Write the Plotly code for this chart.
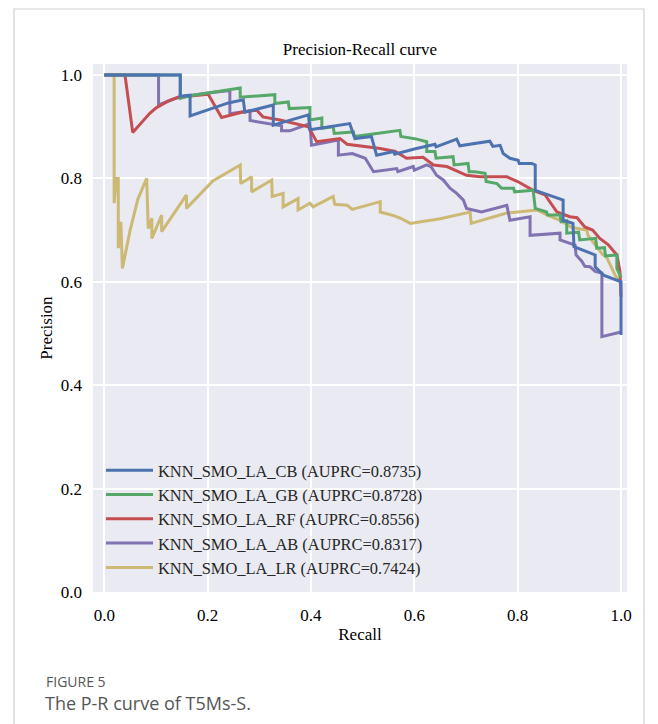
import plotly.graph_objects as go

# ---------------- data ----------------
names = [
    "KNN_SMO_LA_CB (AUPRC=0.8735)",
    "KNN_SMO_LA_GB (AUPRC=0.8728)",
    "KNN_SMO_LA_RF (AUPRC=0.8556)",
    "KNN_SMO_LA_AB (AUPRC=0.8317)",
    "KNN_SMO_LA_LR (AUPRC=0.7424)",
]
colors = ["#4C72B0", "#55A868", "#C44E52", "#8172B2", "#CCB974"]

recall_cb = [0.0, 0.147, 0.147, 0.166, 0.166, 0.240, 0.269, 0.272, 0.327, 0.327, 0.340, 0.395, 0.398,
             0.475, 0.485, 0.517, 0.527, 0.560, 0.562, 0.600, 0.640, 0.642, 0.682, 0.688, 0.746, 0.752,
             0.766, 0.772, 0.785, 0.801, 0.803, 0.827, 0.834, 0.834, 0.888, 0.888, 0.907, 0.909, 0.950,
             0.950, 0.966, 0.998, 1.0, 1.0]
precision_cb = [1.0, 1.0, 0.959, 0.961, 0.921, 0.946, 0.952, 0.928, 0.942, 0.903, 0.907, 0.923, 0.894,
                0.906, 0.877, 0.881, 0.845, 0.852, 0.847, 0.857, 0.866, 0.861, 0.876, 0.863, 0.872, 0.862,
                0.864, 0.848, 0.839, 0.835, 0.829, 0.829, 0.826, 0.777, 0.758, 0.719, 0.713, 0.668, 0.652,
                0.629, 0.613, 0.600, 0.600, 0.497]

recall_gb = [0.0, 0.147, 0.147, 0.166, 0.263, 0.263, 0.330, 0.330, 0.356, 0.358, 0.398, 0.398, 0.421,
             0.421, 0.443, 0.445, 0.482, 0.484, 0.572, 0.574, 0.605, 0.624, 0.624, 0.640, 0.642, 0.675,
             0.677, 0.704, 0.706, 0.717, 0.737, 0.739, 0.760, 0.769, 0.792, 0.794, 0.830, 0.834, 0.856,
             0.858, 0.882, 0.884, 0.895, 0.895, 0.918, 0.920, 0.951, 0.953, 0.968, 0.970, 0.992, 0.992, 1.0]
precision_gb = [1.0, 1.0, 0.955, 0.960, 0.975, 0.957, 0.962, 0.945, 0.948, 0.935, 0.937, 0.913, 0.917,
                0.897, 0.900, 0.887, 0.890, 0.881, 0.893, 0.881, 0.876, 0.871, 0.852, 0.852, 0.839, 0.842,
                0.826, 0.829, 0.813, 0.813, 0.810, 0.794, 0.790, 0.781, 0.781, 0.774, 0.777, 0.742, 0.735,
                0.729, 0.729, 0.716, 0.718, 0.694, 0.696, 0.681, 0.684, 0.665, 0.666, 0.650, 0.652, 0.626, 0.608]

recall_rf = [0.0, 0.040, 0.055, 0.065, 0.075, 0.088, 0.101, 0.124, 0.143, 0.201, 0.227, 0.266, 0.295,
             0.307, 0.340, 0.395, 0.411, 0.456, 0.470, 0.534, 0.563, 0.585, 0.617, 0.637, 0.663, 0.701,
             0.727, 0.779, 0.800, 0.830, 0.853, 0.876, 0.901, 0.915, 0.930, 0.945, 0.959, 0.975, 0.992,
             0.998, 1.0]
precision_rf = [1.0, 1.0, 0.889, 0.900, 0.912, 0.926, 0.937, 0.950, 0.957, 0.963, 0.918, 0.928, 0.932,
                0.919, 0.913, 0.900, 0.871, 0.877, 0.866, 0.858, 0.852, 0.839, 0.841, 0.826, 0.823, 0.806,
                0.803, 0.803, 0.794, 0.777, 0.768, 0.735, 0.726, 0.724, 0.706, 0.700, 0.684, 0.672, 0.652,
                0.620, 0.571]

recall_ab = [0.0, 0.105, 0.105, 0.143, 0.201, 0.243, 0.243, 0.282, 0.282, 0.343, 0.343, 0.359, 0.398,
             0.401, 0.453, 0.453, 0.480, 0.505, 0.521, 0.566, 0.568, 0.598, 0.600, 0.624, 0.632, 0.643,
             0.656, 0.669, 0.682, 0.695, 0.701, 0.730, 0.779, 0.785, 0.824, 0.824, 0.882, 0.882, 0.911,
             0.913, 0.924, 0.930, 0.940, 0.950, 0.963, 0.963, 1.0]
precision_ab = [1.0, 1.0, 0.942, 0.957, 0.965, 0.970, 0.925, 0.931, 0.912, 0.902, 0.892, 0.892, 0.906,
                0.864, 0.874, 0.845, 0.848, 0.839, 0.813, 0.819, 0.813, 0.823, 0.816, 0.826, 0.823, 0.806,
                0.797, 0.781, 0.771, 0.758, 0.742, 0.735, 0.748, 0.719, 0.726, 0.690, 0.694, 0.681, 0.671,
                0.652, 0.640, 0.630, 0.629, 0.620, 0.617, 0.494, 0.503]

recall_lr = [0.019, 0.019, 0.023, 0.027, 0.027, 0.032, 0.035, 0.050, 0.065, 0.082, 0.085, 0.092, 0.092,
             0.111, 0.111, 0.159, 0.159, 0.210, 0.263, 0.264, 0.285, 0.285, 0.324, 0.325, 0.346, 0.346,
             0.375, 0.375, 0.398, 0.404, 0.443, 0.446, 0.470, 0.480, 0.534, 0.534, 0.560, 0.575, 0.592,
             0.650, 0.708, 0.710, 0.779, 0.837, 0.860, 0.882, 0.905, 0.934, 0.936, 0.965, 0.972, 0.979,
             0.990, 1.0]
precision_lr = [1.0, 0.752, 0.800, 0.800, 0.665, 0.716, 0.626, 0.700, 0.760, 0.800, 0.703, 0.723, 0.684,
                0.729, 0.697, 0.768, 0.742, 0.795, 0.826, 0.790, 0.803, 0.774, 0.797, 0.765, 0.771, 0.745,
                0.761, 0.739, 0.752, 0.745, 0.765, 0.750, 0.748, 0.740, 0.755, 0.735, 0.728, 0.722, 0.713,
                0.722, 0.735, 0.713, 0.733, 0.739, 0.728, 0.719, 0.705, 0.700, 0.690, 0.652, 0.648, 0.632,
                0.610, 0.600]

recalls = [recall_cb, recall_gb, recall_rf, recall_ab, recall_lr]
precisions = [precision_cb, precision_gb, precision_rf, precision_ab, precision_lr]
tick_vals = [0.0, 0.2, 0.4, 0.6, 0.8, 1.0]
tick_text = ["0.0", "0.2", "0.4", "0.6", "0.8", "1.0"]

# ---------------- figure ----------------
W, H = 658, 724
ML, MR, MT, MB = 93, 31, 64, 132
PW, PH = W - ML - MR, H - MT - MB

def px_x(px):
    return (px - ML) / PW

def px_y(py):
    return (H - MB - py) / PH

serif = "Liberation Serif, Times New Roman, serif"
fig = go.Figure()
# draw the first model last so that it sits on top, legend keeps the original order
for i in reversed(range(5)):
    fig.add_trace(go.Scatter(
        x=recalls[i], y=precisions[i], mode="lines", name=names[i],
        legendrank=i + 1,
        line=dict(color=colors[i], width=3),
    ))

fig.update_layout(
    width=W, height=H,
    margin=dict(l=ML, r=MR, t=MT, b=MB, autoexpand=False),
    paper_bgcolor="white",
    plot_bgcolor="#EAEAF2",
    font=dict(family=serif, size=17, color="#262626"),
    title=dict(text="Precision-Recall curve", x=px_x(360), xref="paper", xanchor="center",
               y=1 - 49 / H, yanchor="middle", font=dict(size=17, color="#000000")),
    showlegend=True,
    legend=dict(
        x=px_x(101), y=px_y(453), xanchor="left", yanchor="top",
        bgcolor="rgba(0,0,0,0)", borderwidth=0,
        font=dict(family=serif, size=16.4, color="#262626"),
        traceorder="normal",
        itemwidth=47,
    ),
    xaxis=dict(
        range=[-0.0219, 1.0116], tickvals=tick_vals, ticktext=tick_text,
        showgrid=True, gridcolor="white", gridwidth=1.6, zeroline=False,
        showline=False, ticks="", ticklabelstandoff=11,
        tickfont=dict(family=serif, size=17, color="#000000"),
        title=dict(text="Recall", standoff=4, font=dict(family=serif, size=17, color="#000000")),
    ),
    yaxis=dict(
        range=[0.0, 1.0213], tickvals=tick_vals, ticktext=tick_text,
        showgrid=True, gridcolor="white", gridwidth=1.6, zeroline=False,
        showline=False, ticks="", ticklabelstandoff=10,
        tickfont=dict(family=serif, size=17, color="#000000"),
        title=dict(text="Precision", standoff=3, font=dict(family=serif, size=17, color="#000000")),
    ),
)

# outer frame of the figure panel
fig.add_shape(type="rect", xref="paper", yref="paper",
              x0=px_x(14), x1=px_x(644), y0=px_y(740), y1=px_y(9),
              line=dict(color="#D0D0D0", width=1.2), fillcolor="rgba(0,0,0,0)", layer="below")

sans = "Open Sans, Lato, Noto Sans, sans-serif"
fig.add_annotation(text="FIGURE 5", xref="paper", yref="paper", x=px_x(44), y=px_y(681),
                   xanchor="left", yanchor="middle", showarrow=False,
                   font=dict(family=sans, size=14, color="#555555"))
fig.add_annotation(text="The P-R curve of T5Ms-S.", xref="paper", yref="paper", x=px_x(43), y=px_y(703),
                   xanchor="left", yanchor="middle", showarrow=False,
                   font=dict(family=sans, size=18, color="#555555"))

fig.write_html("out.html")
